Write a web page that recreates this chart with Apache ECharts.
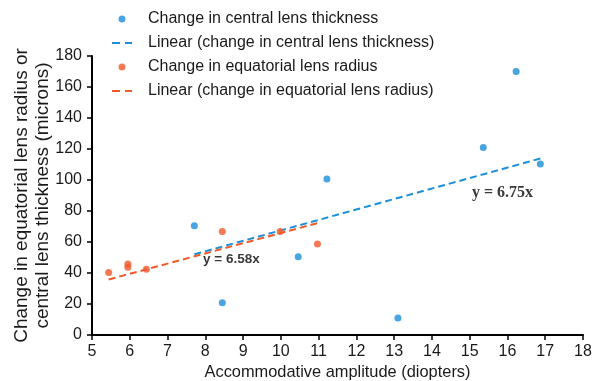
<!DOCTYPE html>
<html>
<head>
<meta charset="utf-8">
<script src="https://cdn.jsdelivr.net/npm/echarts@6/dist/echarts.min.js"></script>
<style>html,body{margin:0;padding:0;background:#fff}#c{width:592px;height:381px}</style>
</head>
<body>
<div id="c"></div>
<script>
const xTicks = [5,6,7,8,9,10,11,12,13,14,15,16,17,18];
const yTicks = [0,20,40,60,80,100,120,140,160,180];
const thicknessX = [7.71, 8.45, 10.46, 11.22, 13.1, 15.36, 16.23, 16.87];
const thicknessY = [70.5, 20.8, 50.5, 100.6, 11, 121, 170, 110.3];
const radiusX = [5.44, 5.95, 5.95, 6.44, 8.45, 9.98, 10.97];
const radiusY = [40.4, 45.8, 43.7, 42.4, 66.7, 66.7, 58.7];
const thicknessSlope = 6.75;
const radiusSlope = 6.58;
const names = ['Change in central lens thickness','Linear (change in central lens thickness)','Change in equatorial lens radius','Linear (change in equatorial lens radius)'];
const equationLabels = ['y = 6.58x', 'y = 6.75x'];

const BLUE = '#1C8FD9', ORANGE = '#F1592A';
const pairs = (xs, ys) => xs.map((x, i) => [x, ys[i]]);
const fit = (xs, k) => { const a = Math.min(...xs), b = Math.max(...xs); return [[a, k*a],[b, k*b]]; };
const DASH_ICON = 'path://M0,0h8v2h-8zM13,0h7v2h-7z';
const FONT = 'Liberation Sans, Arial, sans-serif';

const chart = echarts.init(document.getElementById('c'));
chart.setOption({
  animation: false,
  grid: {left: 92, right: 9, top: 56, bottom: 46, containLabel: false, outerBoundsMode: 'none'},
  legend: {
    orient: 'vertical', left: 107, top: 5, itemGap: 6, itemWidth: 20, itemHeight: 7,
    selectedMode: false,
    textStyle: {fontFamily: FONT, fontSize: 16, color: '#1a1a1a', padding: [0,0,0,11], lineHeight: 18},
    data: [
      {name: names[0], icon: 'circle'},
      {name: names[1], icon: DASH_ICON},
      {name: names[2], icon: 'circle'},
      {name: names[3], icon: DASH_ICON}
    ]
  },
  xAxis: {
    type: 'value', min: 5, max: 18, interval: 1,
    name: 'Accommodative amplitude (diopters)', nameLocation: 'middle', nameGap: 29, nameMoveOverlap: false,
    nameTextStyle: {fontFamily: FONT, fontSize: 16.4, color: '#1a1a1a'},
    axisLine: {lineStyle: {color: '#000', width: 2}},
    axisTick: {show: true, inside: false, length: 5, lineStyle: {color: '#000', width: 1.5}},
    axisLabel: {fontFamily: FONT, fontSize: 16, color: '#1a1a1a', margin: 9},
    splitLine: {show: false}
  },
  yAxis: {
    type: 'value', min: 0, max: 180, interval: 20,
    name: 'Change in equatorial lens radius or\ncentral lens thickness (microns)', nameLocation: 'middle', nameGap: 39, nameMoveOverlap: false,
    nameTextStyle: {fontFamily: FONT, fontSize: 19, color: '#1a1a1a', lineHeight: 21},
    axisLine: {show: true, lineStyle: {color: '#000', width: 2}},
    axisTick: {show: true, inside: false, length: 5, lineStyle: {color: '#000', width: 1.5}},
    axisLabel: {fontFamily: FONT, fontSize: 16, color: '#1a1a1a', margin: 10},
    splitLine: {show: false}
  },
  series: [
    {name: names[0], type: 'scatter', symbolSize: 7, itemStyle: {color: BLUE}, data: pairs(thicknessX, thicknessY), z: 3},
    {name: names[1], type: 'line', symbol: 'none', lineStyle: {color: BLUE, width: 2, type: [7,4]}, itemStyle: {color: BLUE}, data: fit(thicknessX, thicknessSlope), z: 2},
    {name: names[2], type: 'scatter', symbolSize: 7, itemStyle: {color: ORANGE}, data: pairs(radiusX, radiusY), z: 3},
    {name: names[3], type: 'line', symbol: 'none', lineStyle: {color: ORANGE, width: 2, type: [7,4]}, itemStyle: {color: ORANGE}, data: fit(radiusX, radiusSlope), z: 2}
  ],
  graphic: [
    {type: 'text', left: 203, top: 252, style: {text: equationLabels[0], font: 'bold 13.5px "Liberation Sans", sans-serif', fill: '#3a3a3a'}},
    {type: 'text', left: 472, top: 185, style: {text: equationLabels[1], font: 'bold 16px "Liberation Serif", serif', fill: '#3a3a3a'}}
  ]
});
</script>
</body>
</html>
